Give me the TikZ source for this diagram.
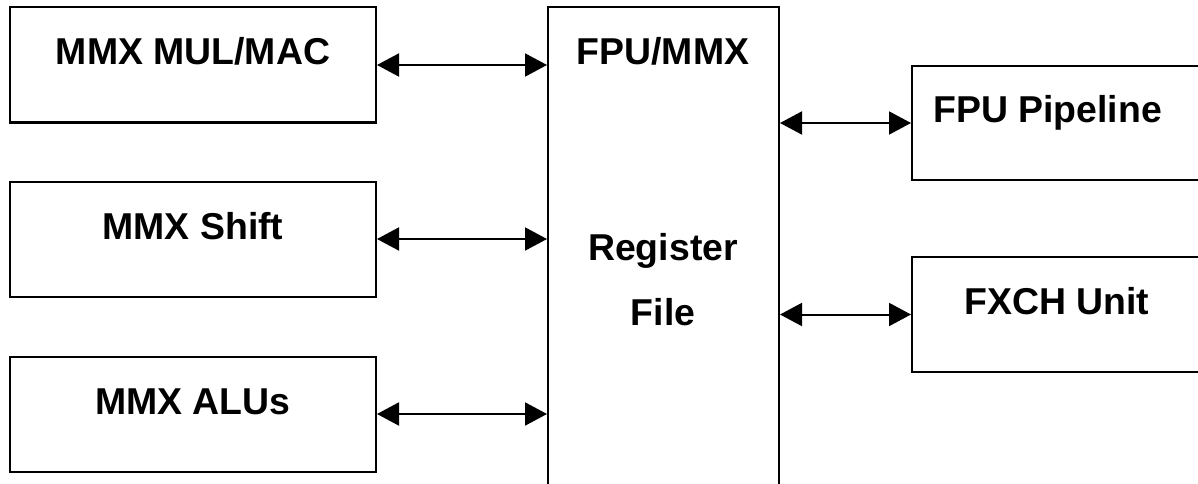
\documentclass[tikz,border=0pt]{standalone}
\usepackage{fontspec}
\setmainfont{Liberation Sans}
\usetikzlibrary{arrows.meta,positioning,calc}
\tikzset{
  unit box/.style={
    draw,
    rectangle,
    line width=2pt,
    inner sep=0pt
  },
  side box/.style={
    unit box,
    minimum width=366pt,
    minimum height=115pt
  },
  out box/.style={
    unit box,
    minimum width=348pt,
    minimum height=115pt
  },
  unit text/.style={
    anchor=base,
    inner sep=0pt,
    font=\fontsize{37.4}{44}\selectfont\bfseries
  },
  link/.style={
    <->,
    line width=2pt,
    >={Triangle[length=22pt,width=23pt]}
  }
}

\begin{document}
\begin{tikzpicture}[x=1pt,y=-1pt]
    \useasboundingbox (0,0) rectangle (1198,484);
    \clip (0,0) rectangle (1198,484);
    \path{
      node[side box] (mul) at (193,65) {}
      node[side box] (shift) [below=57pt of mul] {}
      node[side box] (alu) [below=58pt of shift] {}
      node[unit box,minimum width=231pt,minimum height=523pt] (reg) at (663.5,268.5) {}
      node[out box,minimum height=114pt] (pipe) at (1086,123) {}
      node[out box] (fxch) at (1086,314.5) {}
    };

    \path{
      node[unit text] (mul text) at (mul.center) {MMX MUL/MAC}
      node[unit text] (shift text) at (shift.center) {MMX Shift}
      node[unit text] (alu text) at (alu.center) {MMX ALUs}
      node[unit text] (reg top) at (663,65) {FPU/MMX}
      node[unit text] (reg mid) at (663,260) {Register}
      node[unit text] (reg low) at (663,325) {File}
      node[unit text] (pipe text) at (1047.5,123) {FPU Pipeline}
      node[unit text] (fxch text) at (1057,314) {FXCH Unit}
    };

    \path[link]{
      (mul.east) edge (mul.east -| reg.west)
      (shift.east) edge (shift.east -| reg.west)
      (alu.east) edge (alu.east -| reg.west)
      (reg.east |- pipe.west) edge (pipe.west)
      (reg.east |- fxch.west) edge (fxch.west)
    };
  \end{tikzpicture}
\end{document}
